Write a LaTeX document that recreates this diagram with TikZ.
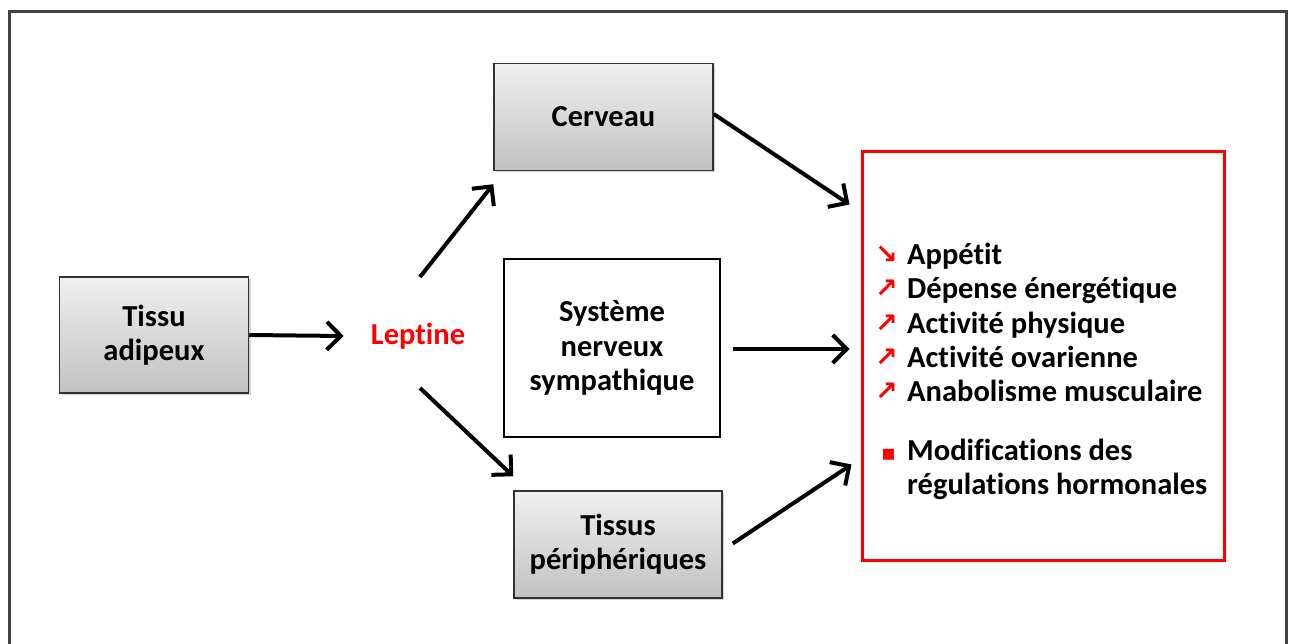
\documentclass[tikz,border=0pt]{standalone}
\usepackage{fontspec}
\setmainfont{Carlito}[Ligatures=NoCommon]
\newfontfamily\symfont{DejaVu Sans}
\usetikzlibrary{arrows.meta,calc,shadows}
\newcommand{\bigfont}{\fontsize{30.5}{34.3}\selectfont\bfseries}
\tikzset{
  greybox/.style={draw=black!80, line width=1.5pt, top color=gray!12, bottom color=gray!48,
    drop shadow={shadow xshift=2pt, shadow yshift=-2pt, opacity=0.35},
    align=center, font=\bigfont, inner sep=0pt},
  whitebox/.style={draw=black, line width=2.5pt, fill=white,
    align=center, font=\bigfont, inner sep=0pt},
  redbox/.style={draw=red, line width=3pt, fill=white},
  bigarrow/.style={line width=4pt, -{Straight Barb[length=14pt,width=28pt,line width=4pt]}}
}
\newcommand{\upar}{\makebox[29pt][l]{\hspace{-3pt}\raisebox{1pt}{\symfont\fontsize{27}{34}\selectfont\bfseries\color{red}↗}}}
\newcommand{\dnar}{\makebox[29pt][l]{\hspace{-3pt}\raisebox{1pt}{\symfont\fontsize{27}{34}\selectfont\bfseries\color{red}↘}}}
\newcommand{\sqbul}{\makebox[29pt][l]{\hspace{3pt}\symfont\fontsize{22}{34}\selectfont\color{red}▪}}
\begin{document}
\begin{tikzpicture}[x=1pt,y=-1pt]
\useasboundingbox (0,0) rectangle (1290,644);
\fill[white] (0,0) rectangle (1290,644);
% outer frame
\draw[line width=3pt, black!75] (9,700) -- (9,12) -- (1286,12) -- (1286,700);

\node[greybox, minimum width=189pt, minimum height=116pt] (ta) at (154,335) {Tissu\\adipeux};
\node[font=\bigfont, text=red, inner sep=0pt] (lep) at (418,336) {Leptine};
\node[greybox, minimum width=219pt, minimum height=107pt] (cer) at (603.5,117) {Cerveau};
\node[whitebox, minimum width=216pt, minimum height=178pt] (sys) at (612,348) {Système\\nerveux\\sympathique};
\node[greybox, minimum width=208pt, minimum height=107pt] (tp) at (618,544.5) {Tissus\\périphériques};
\node[redbox, minimum width=362pt, minimum height=408pt] (res) at (1043,356) {};

\node[anchor=north west, align=left, inner sep=0pt, font=\bigfont] (lst) at (878,243)
 {\dnar Appétit\\
  \upar Dépense énergétique\\
  \upar Activité physique\\
  \upar Activité ovarienne\\
  \upar Anabolisme musculaire\\[24pt]
  \sqbul Modifications des\\
  \makebox[29pt]{}régulations hormonales};

\draw[bigarrow] (ta.east) -- ([xshift=-27pt]lep.west);
\draw[bigarrow] ($(lep.center)+(2,-59)$) -- ($(cer.south west)+(0,13)$);
\draw[bigarrow] ($(lep.center)+(2,52)$) -- ($(tp.north west)+(0,-14)$);
\draw[bigarrow] ($(cer.east)+(0,-3)$) -- ($(res.north west)+(-11,54)$);
\draw[bigarrow] ($(sys.east)+(12,1)$) -- ($(res.west)+(-11,-7)$);
\draw[bigarrow] ($(tp.east)+(10,-1)$) -- ($(res.south west)+(-9,-97)$);
\end{tikzpicture}
\end{document}
